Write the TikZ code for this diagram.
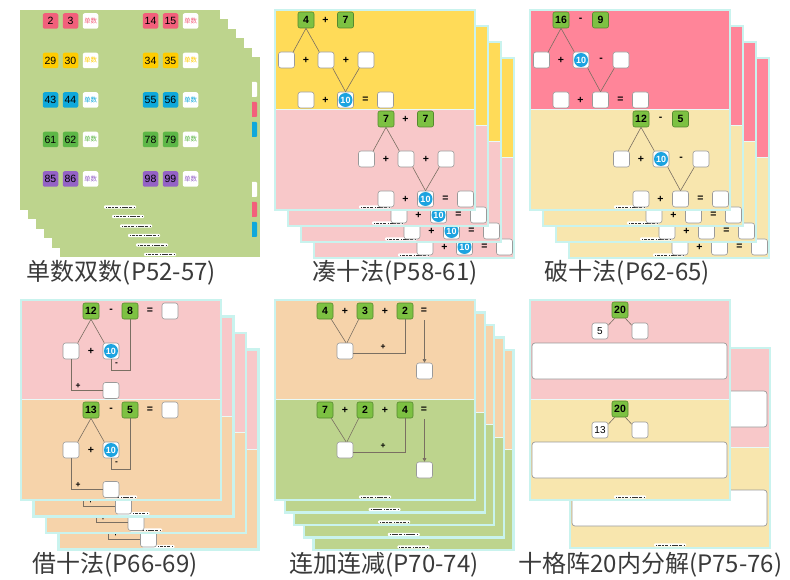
\documentclass[tikz,border=0pt]{standalone}
\usepackage{fontspec}
\setmainfont{Liberation Sans}
\newfontfamily\cjkfont{Noto Sans CJK SC}
\usetikzlibrary{arrows.meta,calc}

\definecolor{tileG}{HTML}{7DC142}
\definecolor{tileGd}{HTML}{55882F}
\definecolor{boxB}{HTML}{9A9A9A}
\definecolor{tenB}{HTML}{1BA3E0}
\definecolor{connC}{HTML}{7A6F62}
\definecolor{pgBorder}{HTML}{C9F3EE}
\definecolor{yel}{HTML}{FFDB58}
\definecolor{pinkL}{HTML}{F8C8C9}
\definecolor{pinkR}{HTML}{FF8599}
\definecolor{creamY}{HTML}{F8E6AE}
\definecolor{peach}{HTML}{F6D3AA}
\definecolor{greenP}{HTML}{BDD48D}
\definecolor{capC}{HTML}{3A3A3A}
\definecolor{rPink}{HTML}{F2607B}
\definecolor{rYel}{HTML}{FFCC00}
\definecolor{rCyan}{HTML}{0FA8DB}
\definecolor{rGreen}{HTML}{5DB747}
\definecolor{rPurp}{HTML}{9462C6}

\tikzset{
  gtile/.style={draw=tileGd, fill=tileG, rounded corners=2pt, minimum size=16pt, inner sep=0pt, line width=0.6pt, font=\bfseries\fontsize{10.5}{10.5}\selectfont},
  wbox/.style={draw=boxB, fill=white, rounded corners=2.5pt, minimum size=16pt, inner sep=0pt, line width=0.6pt, font=\fontsize{10}{10}\selectfont},
  tenbox/.style={wbox, text=white, font=\bfseries\fontsize{9}{9}\selectfont, path picture={\fill[tenB] (path picture bounding box.center) circle (7pt);}},
  opn/.style={inner sep=0pt, font=\bfseries\fontsize{10.5}{10.5}\selectfont},
  lbl/.style={inner sep=0pt, font=\bfseries\fontsize{8.5}{8.5}\selectfont},
  conn/.style={draw=connC, line width=0.6pt},
  pgframe/.style={draw=pgBorder, line width=2.2pt},
  numtile/.style={rounded corners=2pt, minimum size=15.5pt, inner sep=0pt, font=\fontsize{10.5}{10.5}\selectfont},
  danshu/.style={numtile, fill=white, font=\cjkfont\fontsize{6.5}{6.5}\selectfont},
  bigbox/.style={draw=boxB, fill=white, rounded corners=3pt, minimum width=195pt, minimum height=36pt, inner sep=0pt, line width=0.7pt},
  captxt/.style={text=capC, font=\cjkfont\fontsize{24}{24}\selectfont, inner sep=0pt},
}

% footer bar of a page
\newcommand\pgFoot{%
  \fill[white, rounded corners=1pt] (84,195.4) rectangle (116,198.6);
  \draw[black!80, line width=0.8pt, dash pattern=on 0.8pt off 1.2pt on 3pt off 0.5pt on 2.5pt off 0.8pt on 3pt off 2pt] (86,197) -- (114,197);}

% two-coloured page with frame
\newcommand\pgBg[2]{%
  \fill[#1] (0,0) rectangle (200,99.5);
  \fill[#2] (0,99.5) rectangle (200,200);
  \draw[white!60!pgBorder, line width=0.8pt] (0,99.5) -- (200,99.5);
  \draw[pgframe] (0,0) rectangle (200,200);
  \pgFoot}

% panel 1 row
\newcommand\oddRow[7]{%
  \node[numtile, fill=#2] (#7a) at (30.5,#1) {#3};
  \node[numtile, fill=#2] (#7b) at (50.5,#1) {#4};
  \node[danshu, text=#2] (#7c) at (70.5,#1) {单数};
  \node[numtile, fill=#2] (#7d) at (130.5,#1) {#5};
  \node[numtile, fill=#2] (#7e) at (150.5,#1) {#6};
  \node[danshu, text=#2] (#7f) at (170.5,#1) {单数};}

% panel 2 section
\newcommand\secCou[5]{%
\begin{scope}[shift={#1}]
\ifnum#5=1
  \node[gtile] (#2ta) at (31,10) {#3};
  \node[opn] (#2o1) at (50.5,10) {+};
  \node[gtile] (#2tb) at (70.5,10) {#4};
  \node[wbox] (#2r1) at (11.5,50) {};
  \node[opn] (#2o2) at (31,50) {+};
  \node[wbox] (#2r2) at (51,50) {};
  \node[opn] (#2o3) at (71,50) {+};
  \node[wbox] (#2r3) at (91,50) {};
\fi
  \node[wbox] (#2s1) at (31,90) {};
  \node[opn] (#2o4) at (50.5,90) {+};
  \node[tenbox] (#2s2) at (70.5,90) {10};
  \node[opn] (#2o5) at (90.5,90) {=};
  \node[wbox] (#2s3) at (110.5,90) {};
\ifnum#5=1
  \draw[conn] (#2ta.south) -- ([xshift=-1.5pt]#2r1.north east);
  \draw[conn] (#2ta.south) -- ([xshift=1.5pt]#2r2.north west);
  \draw[conn] ([xshift=-1.5pt]#2r2.south east) -- (#2s2.north);
  \draw[conn] ([xshift=1.5pt]#2r3.south west) -- (#2s2.north);
\fi
\end{scope}}

% panel 3 section
\newcommand\secPo[5]{%
\begin{scope}[shift={#1}]
\ifnum#5=1
  \node[gtile] (#2ta) at (31,10) {#3};
  \node[opn] (#2o1) at (50.5,10) {-};
  \node[gtile] (#2tb) at (70.5,10) {#4};
  \node[wbox] (#2r1) at (11.5,50) {};
  \node[opn] (#2o2) at (31,50) {+};
  \node[tenbox] (#2r2) at (51,50) {10};
  \node[opn] (#2o3) at (71,50) {-};
  \node[wbox] (#2r3) at (91,50) {};
\fi
  \node[wbox] (#2s1) at (31,90) {};
  \node[opn] (#2o4) at (50.5,90) {+};
  \node[wbox] (#2s2) at (70.5,90) {};
  \node[opn] (#2o5) at (90.5,90) {=};
  \node[wbox] (#2s3) at (110.5,90) {};
\ifnum#5=1
  \draw[conn] (#2ta.south) -- ([xshift=-1.5pt]#2r1.north east);
  \draw[conn] (#2ta.south) -- ([xshift=1.5pt]#2r2.north west);
  \draw[conn] ([xshift=-1.5pt]#2r2.south east) -- (#2s2.north);
  \draw[conn] ([xshift=1.5pt]#2r3.south west) -- (#2s2.north);
\fi
\end{scope}}

% panel 4 section
\newcommand\secJie[5]{%
\begin{scope}[shift={#1}]
\ifnum#5=1
  \node[gtile] (#2ta) at (70,11) {#3};
  \node[opn] (#2o1) at (90,11) {-};
  \node[gtile] (#2tb) at (109,11) {#4};
  \node[opn] (#2o2) at (129,11) {=};
  \node[wbox] (#2an) at (149,11) {};
  \node[wbox] (#2r1) at (50,51) {};
  \node[opn] (#2o3) at (70,51) {+};
  \node[tenbox] (#2r2) at (90,51) {10};
  \coordinate (#2h) at (0,70);
  \node[lbl] (#2lm) at (95.5,64.5) {-};
  \draw[conn] (#2ta.south) -- ([xshift=-1.5pt]#2r1.north east);
  \draw[conn] (#2ta.south) -- ([xshift=1.5pt]#2r2.north west);
  \draw[conn] (#2tb.south) -- (#2tb.south |- #2h) -- (#2r2.south |- #2h) -- (#2r2.south);
  \coordinate (#2v) at (#2r1.south);
\else
  \coordinate (#2v) at (50,75);
\fi
  \node[wbox] (#2s) at (90,90.5) {};
  \node[lbl] (#2lp) at (57,86) {+};
  \draw[conn] (#2v) |- (#2s.west);
\end{scope}}

% panel 5 section
\newcommand\secLian[5]{%
\begin{scope}[shift={#1}]
  \node[gtile] (#2ta) at (50,11) {#3};
  \node[opn] (#2o1) at (70,11) {+};
  \node[gtile] (#2tb) at (90,11) {#4};
  \node[opn] (#2o2) at (110,11) {+};
  \node[gtile] (#2tc) at (130,11) {#5};
  \node[opn] (#2eq) at (149,11) {=};
  \node[wbox] (#2r) at (70,51) {};
  \node[wbox] (#2an) at (149.5,71) {};
  \coordinate (#2ar) at (149.5,20);
  \node[lbl] (#2lp) at (108,47.5) {+};
  \draw[conn] ([xshift=-2pt]#2ta.south east) -- ([xshift=1pt]#2r.north);
  \draw[conn] ([xshift=2pt]#2tb.south west) -- ([xshift=2pt]#2r.north);
  \draw[conn] (#2tc.south) |- ([yshift=-2pt]#2r.east);
  \draw[conn, -{Triangle[length=3.5pt,width=3.5pt]}] (#2ar) -- (#2an.north);
\end{scope}}

% panel 6 section
\newcommand\secShi[4]{%
\begin{scope}[shift={#1}]
\ifnum#4=1
  \node[gtile] (#2ta) at (90,10) {20};
  \node[wbox] (#2b1) at (70,31) {#3};
  \node[wbox] (#2b2) at (110,31) {};
  \draw[conn] ([xshift=3pt]#2ta.south west) -- ([yshift=-2.5pt]#2b1.north east);
  \draw[conn] ([xshift=-3pt]#2ta.south east) -- ([yshift=-2.5pt]#2b2.north west);
\fi
  \node[bigbox] (#2g) at (99.5,61) {};
\end{scope}}

\begin{document}
\begin{tikzpicture}[x=1pt, y=-1pt]
\useasboundingbox (0,0) rectangle (790,580);
\fill[white] (0,0) rectangle (790,580);

% ---------------- panel 1 ----------------
\begin{scope}[shift={(60,57.5)}]
  \fill[greenP] (0,0) rectangle (200,200);
  \pgFoot
\end{scope}
\foreach \yy in {82,182} {
  \fill[white, rounded corners=1pt] (245,\yy) rectangle (257,\yy+15);
  \fill[rPink, rounded corners=1pt] (245,\yy+20) rectangle (257,\yy+35);
  \fill[rCyan, rounded corners=1pt] (245,\yy+40) rectangle (257,\yy+55);
}
\foreach \k in {4,3,2,1} {
  \begin{scope}[shift={(20+8*\k,10+9.5*\k)}]
    \fill[greenP] (0,0) rectangle (200,200);
    \pgFoot
  \end{scope}
}
\begin{scope}[shift={(20,10)}, name prefix=s0-]
  \fill[greenP] (0,0) rectangle (200,200);
  \pgFoot
  \oddRow{11}{rPink}{2}{3}{14}{15}{p}
  \oddRow{50.5}{rYel}{29}{30}{34}{35}{y}
  \oddRow{90}{rCyan}{43}{44}{55}{56}{c}
  \oddRow{129.5}{rGreen}{61}{62}{78}{79}{g}
  \oddRow{169}{rPurp}{85}{86}{98}{99}{v}
\end{scope}

% ---------------- panel 2 ----------------
\foreach \k in {3,2,1} {
  \begin{scope}[shift={(275+13*\k,10+16*\k)}, name prefix=cb\k-]
    \pgBg{yel}{pinkL}
    \secCou{(80,99)}{b}{}{}{0}
  \end{scope}
}
\begin{scope}[shift={(275,10)}, name prefix=c0-]
  \pgBg{yel}{pinkL}
  \secCou{(0,0)}{a}{4}{7}{1}
  \secCou{(80,99)}{b}{7}{7}{1}
\end{scope}

% ---------------- panel 3 ----------------
\foreach \k in {3,2,1} {
  \begin{scope}[shift={(530+13*\k,10+16*\k)}, name prefix=pb\k-]
    \pgBg{pinkR}{creamY}
    \secPo{(80,99)}{b}{}{}{0}
  \end{scope}
}
\begin{scope}[shift={(530,10)}, name prefix=p0-]
  \pgBg{pinkR}{creamY}
  \secPo{(0,0)}{a}{16}{9}{1}
  \secPo{(80,99)}{b}{12}{5}{1}
\end{scope}

% ---------------- panel 4 ----------------
\foreach \k in {3,2,1} {
  \begin{scope}[shift={(21+12.5*\k,300+16.5*\k)}, name prefix=jb\k-]
    \pgBg{pinkL}{peach}
    \secJie{(0,99)}{b}{}{}{0}
  \end{scope}
}
\begin{scope}[shift={(21,300)}, name prefix=j0-]
  \pgBg{pinkL}{peach}
  \secJie{(0,0)}{a}{12}{8}{1}
  \secJie{(0,99)}{b}{13}{5}{1}
\end{scope}

% ---------------- panel 5 ----------------
\foreach \k in {4,3,2,1} {
  \begin{scope}[shift={(275+9.6*\k,300+12.5*\k)}]
    \pgBg{peach}{greenP}
  \end{scope}
}
\begin{scope}[shift={(275,300)}, name prefix=l0-]
  \pgBg{peach}{greenP}
  \secLian{(0,0)}{a}{4}{3}{2}
  \secLian{(0,99)}{b}{7}{2}{4}
\end{scope}

% ---------------- panel 6 ----------------
\begin{scope}[shift={(570,348)}, name prefix=g1-]
  \pgBg{pinkL}{creamY}
  \secShi{(0,0)}{a}{}{0}
  \secShi{(0,99)}{b}{}{0}
\end{scope}
\begin{scope}[shift={(530,300)}, name prefix=g0-]
  \pgBg{pinkL}{creamY}
  \secShi{(0,0)}{a}{5}{1}
  \secShi{(0,99)}{b}{13}{1}
\end{scope}

% ---------------- captions ----------------
\node[captxt] (cap1) at (121.5,272.5) {单数双数(P52-57)};
\node[captxt] (cap2) at (395,272.5) {凑十法(P58-61)};
\node[captxt] (cap3) at (627.5,272.5) {破十法(P62-65)};
\node[captxt] (cap4) at (115,564.5) {借十法(P66-69)};
\node[captxt] (cap5) at (384,564.5) {连加连减(P70-74)};
\node[captxt] (cap6) at (650.5,564.5) {十格阵20内分解(P75-76)};
\end{tikzpicture}
\end{document}
